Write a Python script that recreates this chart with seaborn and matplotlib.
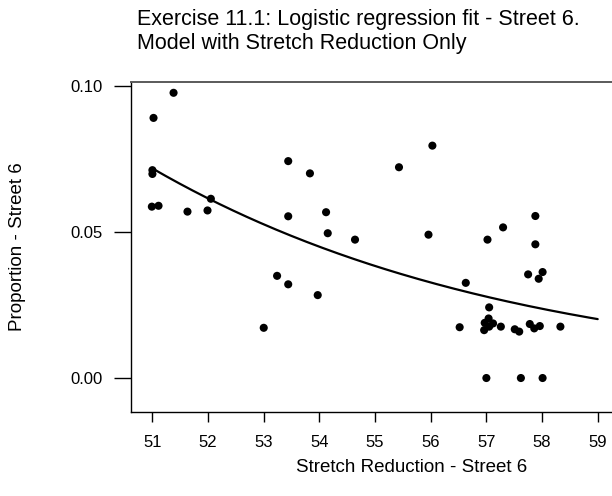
import numpy as np
import pandas as pd
import matplotlib
matplotlib.use("Agg")
import matplotlib.pyplot as plt
import seaborn as sns

# ---- data ----
stretch_reduction = [51.38, 51.02, 51.00, 51.00, 50.99, 51.11, 51.63, 51.99, 52.05,
                     53.44, 53.44, 53.83, 54.12, 54.15, 54.64, 55.43, 56.03, 55.96,
                     57.02, 57.30, 53.24, 53.44, 53.97, 53.00, 56.63, 57.75, 57.94,
                     58.01, 57.88, 57.88, 57.05, 57.04, 56.97, 57.12, 56.96, 57.05,
                     57.26, 57.51, 57.59, 57.78, 57.86, 57.96, 58.33, 56.52, 57.00,
                     57.62, 58.01]
proportion = [0.0977, 0.0891, 0.0712, 0.0699, 0.0587, 0.0590, 0.0570, 0.0574, 0.0614,
              0.0743, 0.0554, 0.0701, 0.0568, 0.0496, 0.0474, 0.0722, 0.0796, 0.0491,
              0.0474, 0.0516, 0.0350, 0.0321, 0.0284, 0.0172, 0.0326, 0.0355, 0.0340,
              0.0363, 0.0555, 0.0458, 0.0242, 0.0204, 0.0189, 0.0187, 0.0164, 0.0176,
              0.0176, 0.0167, 0.0159, 0.0185, 0.0170, 0.0178, 0.0176, 0.0174, 0.0000,
              0.0000, 0.0000]

# fitted logistic model: logit(p) = intercept + slope * x
fit_intercept = 5.876
fit_slope = -0.1654
fit_x_range = [51.0, 59.0]

x_ticks = [51, 52, 53, 54, 55, 56, 57, 58, 59]
y_ticks = [0.00, 0.05, 0.10]
y_tick_labels = ["0.00", "0.05", "0.10"]

title_lines = ["Exercise 11.1: Logistic regression fit - Street 6.",
               "Model with Stretch Reduction Only"]
x_label = "Stretch Reduction - Street 6"
y_label = "Proportion - Street 6"

# ---- build ----
sns.set_style("ticks")
plt.rcParams["font.family"] = ["Liberation Sans", "DejaVu Sans"]
plt.rcParams["text.color"] = "black"
plt.rcParams["axes.labelcolor"] = "black"
plt.rcParams["xtick.color"] = "black"
plt.rcParams["ytick.color"] = "black"

pts = pd.DataFrame({"x": stretch_reduction, "y": proportion})
xg = np.linspace(fit_x_range[0], fit_x_range[1], 200)
eta = fit_intercept + fit_slope * xg
curve = pd.DataFrame({"x": xg, "p": 1.0 / (1.0 + np.exp(-eta))})

W, H = 612, 496
fig = plt.figure(figsize=(W / 100, H / 100), dpi=100)
ax = fig.add_axes([130.7 / W, (H - 412) / H, (W - 130.7) / W, (412 - 82) / H])

sns.lineplot(data=curve, x="x", y="p", ax=ax, color="black", linewidth=1.6)
sns.scatterplot(data=pts, x="x", y="y", ax=ax, color="black", s=34,
                edgecolor="none", linewidth=0)

ax.set_xlim(50.61, 59.257)
ax.set_ylim(-0.01164, 0.1014)
ax.set_xticks(x_ticks)
ax.set_yticks(y_ticks)
ax.set_yticklabels(y_tick_labels)

ax.tick_params(axis="x", length=7.2, width=1.0, pad=9.5, labelsize=12, colors="black")
ax.tick_params(axis="y", length=12, width=1.0, pad=8, labelsize=12, colors="black")

for s in ["left", "bottom"]:
    ax.spines[s].set_color("black")
    ax.spines[s].set_linewidth(1.0)
ax.spines["right"].set_visible(False)
ax.spines["top"].set_visible(True)
ax.spines["top"].set_color("#5a5a5a")
ax.spines["top"].set_linewidth(1.4)

ax.set_xlabel(x_label, fontsize=13.5, color="black")
ax.set_ylabel(y_label, fontsize=13.5, color="black")
ax.xaxis.set_label_coords((412 - 130.7) / (W - 130.7), (412 - 467) / 330)
ax.xaxis.label.set_va("center")
ax.yaxis.set_label_coords((18 - 130.7) / (W - 130.7), 0.5)
ax.yaxis.label.set_va("center")

fig.text(137 / W, 1 - 24.5 / H, title_lines[0], fontsize=15.5, ha="left", va="baseline")
fig.text(137 / W, 1 - 49.5 / H, title_lines[1], fontsize=15.5, ha="left", va="baseline")

fig.savefig("out.png", dpi=100)
